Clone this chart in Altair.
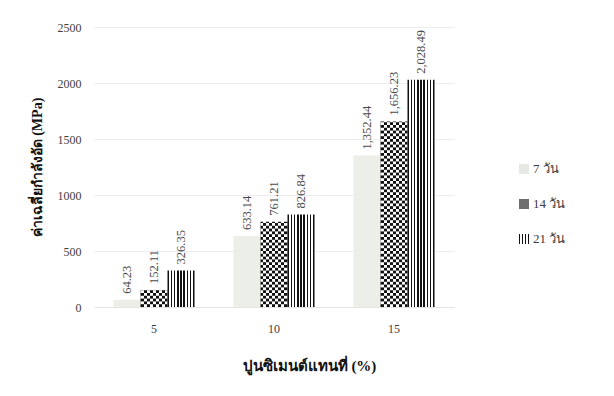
import altair as alt
import pandas as pd

# Replacement level of cement (%) and curing ages
pct = ["5", "10", "15"]
series = ["7 วัน", "14 วัน", "21 วัน"]

# Average compressive strength (MPa) per curing age
day7 = [64.23, 633.14, 1352.44]
day14 = [152.11, 761.21, 1656.23]
day21 = [326.35, 826.84, 2028.49]

y_ticks = [0, 500, 1000, 1500, 2000, 2500]

FONT = "Liberation Serif"

rows = []
for s, vals in zip(series, [day7, day14, day21]):
    for p, v in zip(pct, vals):
        rows.append({"pct": p, "series": s, "value": v})
df = pd.DataFrame(rows)

# Alternate horizontal bands of the checkerboard fill on the 14-day bars
CELL = 25
chk = []
for p, v in zip(pct, day14):
    k = 1
    while k * CELL < v:
        chk.append({"pct": p, "series": "14 วัน", "value": k * CELL,
                    "hi": min((k + 1) * CELL, v)})
        k += 2
chk_df = pd.DataFrame(chk)


def column_fill(colors):
    """Horizontal gradient with hard stops -> equal vertical columns."""
    n = len(colors)
    stops = []
    for i, c in enumerate(colors):
        stops.append(alt.GradientStop(offset=i / n, color=c))
        stops.append(alt.GradientStop(offset=(i + 1) / n, color=c))
    return alt.Gradient(gradient="linear", stops=stops, x1=0, x2=1, y1=0, y2=0)


BLACK, WHITE = "#111111", "#ffffff"
stripes = column_fill([BLACK if i % 2 == 0 else WHITE for i in range(17)])
checker_a = column_fill([BLACK if i % 2 == 0 else WHITE for i in range(9)])
checker_b = column_fill([WHITE if i % 2 == 0 else BLACK for i in range(9)])
legend_stripes = column_fill([BLACK if i % 2 == 0 else WHITE for i in range(7)])

x_enc = alt.X(
    "pct:N", sort=pct,
    scale=alt.Scale(paddingInner=0.325, paddingOuter=0.1625),
    axis=alt.Axis(title="ปูนซิเมนต์แทนที่ (%)", labelAngle=0, ticks=False,
                  domain=True, domainColor="#e3e3e3", labelPadding=16,
                  titlePadding=24, titleFontSize=15, titleX=215),
)
xo_enc = alt.XOffset("series:N", sort=series, scale=alt.Scale(domain=series))
y_axis = alt.Axis(title="ค่าเฉลี่ยกำลังอัด (MPa)", values=y_ticks, format="d",
                  ticks=False, domain=False, grid=True, gridColor="#ededed",
                  labelPadding=13, titlePadding=13)
y_scale = alt.Scale(domain=[0, 2500], nice=False)
y_enc = alt.Y("value:Q", scale=y_scale, axis=y_axis)

base = alt.Chart(df).encode(x=x_enc, xOffset=xo_enc, y=y_enc)

bars7 = base.transform_filter(alt.datum.series == "7 วัน").mark_bar(fill="#eceee8")
bars14 = base.transform_filter(alt.datum.series == "14 วัน").mark_bar(fill=checker_a)
bars21 = base.transform_filter(alt.datum.series == "21 วัน").mark_bar(fill=stripes)

checker_rows = alt.Chart(chk_df).mark_bar(fill=checker_b).encode(
    x=x_enc, xOffset=xo_enc, y=y_enc, y2="hi:Q"
)

labels = base.mark_text(
    angle=270, align="left", baseline="middle", dx=6,
    font=FONT, fontSize=12.5, color="#4a4a4a",
).encode(text=alt.Text("value:Q", format=",.2f"))

main = alt.layer(bars7, bars14, checker_rows, bars21, labels).properties(
    width=360, height=280
)

# Legend panel drawn with the same fills as the bars
leg_df = pd.DataFrame({"series": series})
leg_y = alt.Y("series:N", sort=series,
              scale=alt.Scale(type="point", domain=series, range=[142, 212],
                              padding=0),
              axis=None)
leg_base = alt.Chart(leg_df).encode(y=leg_y)
sym7 = leg_base.transform_filter(alt.datum.series == "7 วัน").mark_square(
    size=100, fill="#e6e8e3", opacity=1, strokeWidth=0).encode(x=alt.value(10))
sym14 = leg_base.transform_filter(alt.datum.series == "14 วัน").mark_square(
    size=100, fill="#6e6e6e", opacity=1, strokeWidth=0).encode(x=alt.value(10))
sym21 = leg_base.transform_filter(alt.datum.series == "21 วัน").mark_square(
    size=100, fill=legend_stripes, opacity=1, strokeWidth=0).encode(x=alt.value(10))
leg_text = leg_base.mark_text(
    align="left", baseline="middle", font=FONT, fontSize=13, color="#404040"
).encode(x=alt.value(19), text="series:N")

legend_panel = alt.layer(sym7, sym14, sym21, leg_text).properties(
    width=70, height=280
)

chart = (
    alt.hconcat(main, legend_panel, spacing=60)
    .properties(padding={"left": 30, "top": 21, "right": 20, "bottom": 10},
                background="white")
    .configure_view(stroke=None)
    .configure_axis(labelFont=FONT, titleFont=FONT, labelFontSize=12,
                    titleFontSize=14, labelColor="#404040", titleColor="#111111",
                    titleFontWeight="bold")
)

chart.save("out.html", embed_options={"renderer": "svg", "actions": False})
